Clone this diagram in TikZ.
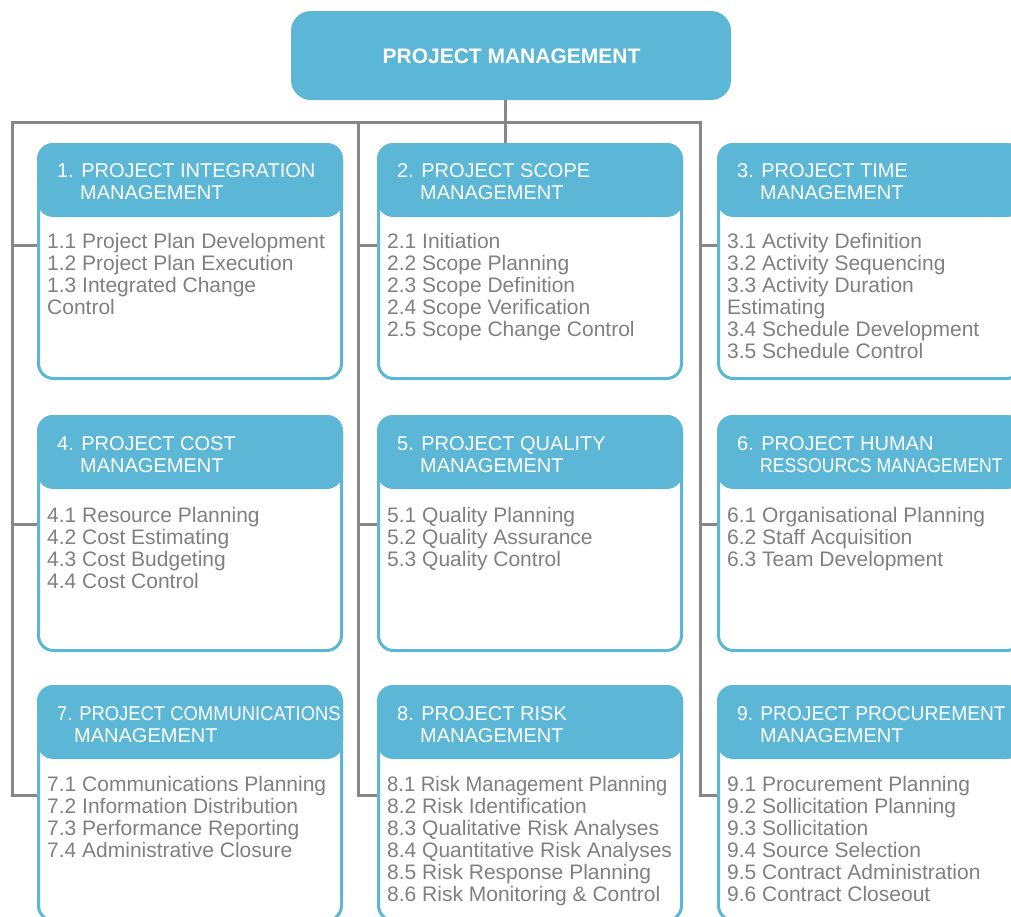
\documentclass[tikz,border=0pt]{standalone}
\usepackage{fontspec}
\usepackage{graphicx}
\usetikzlibrary{backgrounds}
\setmainfont{Liberation Sans}
\definecolor{pmblue}{RGB}{91,183,213}
\definecolor{pmgray}{RGB}{128,128,128}
\definecolor{pmline}{RGB}{135,135,135}
\tikzset{
  conn/.style={draw=pmline, line width=3pt},
  boxframe/.style={draw=pmblue, line width=3pt, fill=white, rounded corners=15pt,
    minimum width=303pt, minimum height=234pt, anchor=north west, inner sep=0pt},
  boxhead/.style={fill=pmblue, rounded corners=16.5pt,
    minimum width=306pt, minimum height=74pt, anchor=north west, inner sep=0pt, outer sep=0pt},
  topbox/.style={fill=pmblue, rounded corners=20pt,
    minimum width=440pt, minimum height=89pt, anchor=north west, inner sep=0pt, outer sep=0pt},
  titletxt/.style={text=white, font=\fontsize{21}{24}\selectfont\bfseries, anchor=base, inner sep=0pt},
  headtxt/.style={text=white, font=\fontsize{20}{22}\selectfont, anchor=base west, inner sep=0pt},
  itemtxt/.style={text=pmgray, font=\fontsize{21}{22}\selectfont, anchor=base west, inner sep=0pt},
}
\begin{document}
\begin{tikzpicture}[x=1pt,y=-1pt]
\useasboundingbox (0,0) rectangle (1011,916);
\clip (0,0) rectangle (1011,916);

% top box
\node[topbox] (pm) at (291,11) {};
\node[titletxt] (pmt) at (511.5,63) {PROJECT MANAGEMENT};

% boxes
\foreach \n/\bx/\by in {1/37/143, 2/377/143, 3/717/143,
                        4/37/415, 5/377/415, 6/717/415,
                        7/37/685, 8/377/685, 9/717/685}{
  \node[boxframe] (b\n) at (\bx,\by) {};
  \node[boxhead] (h\n) at (\bx,\by) {};
}

% connectors
\coordinate (c1) at (12,122);
\coordinate (c2) at (358,122);
\coordinate (c3) at (700,122);
\coordinate (j0) at (505,122);
\coordinate (r1) at (0,245);
\coordinate (r2) at (0,524);
\coordinate (r3) at (0,795);
\begin{scope}[on background layer]
\draw[conn] (pm.south -| j0) -- (h2.north -| j0);
\draw[conn] (b7.west |- r3) -| (c1) -- (c3) |- (b9.west |- r3);
\draw[conn] (c2) |- (b8.west |- r3);
\draw[conn] (c1 |- r1) -- (b1.west |- r1);
\draw[conn] (c1 |- r2) -- (b4.west |- r2);
\draw[conn] (c2 |- r1) -- (b2.west |- r1);
\draw[conn] (c2 |- r2) -- (b5.west |- r2);
\draw[conn] (c3 |- r1) -- (b3.west |- r1);
\draw[conn] (c3 |- r2) -- (b6.west |- r2);
\end{scope}

% header texts
\node[headtxt] (t1a) at (57,177) {1. PROJECT INTEGRATION};
\node[headtxt] (t1b) at (80,199) {MANAGEMENT};
\node[headtxt] (t2a) at (397,177) {2. PROJECT SCOPE};
\node[headtxt] (t2b) at (420,199) {MANAGEMENT};
\node[headtxt] (t3a) at (737,177) {3. PROJECT TIME};
\node[headtxt] (t3b) at (760,199) {MANAGEMENT};
\node[headtxt] (t4a) at (57,450) {4. PROJECT COST};
\node[headtxt] (t4b) at (80,472) {MANAGEMENT};
\node[headtxt] (t5a) at (397,450) {5. PROJECT QUALITY};
\node[headtxt] (t5b) at (420,472) {MANAGEMENT};
\node[headtxt] (t6a) at (737,450) {6. PROJECT HUMAN};
\node[headtxt] (t6b) at (760,472) {\scalebox{0.88}[1]{RESSOURCS MANAGEMENT}};
\node[headtxt] (t7a) at (57,720) {\scalebox{0.92}[1]{7. PROJECT COMMUNICATIONS}};
\node[headtxt] (t7b) at (74,742) {MANAGEMENT};
\node[headtxt] (t8a) at (397,720) {8. PROJECT RISK};
\node[headtxt] (t8b) at (420,742) {MANAGEMENT};
\node[headtxt] (t9a) at (737,720) {\scalebox{0.96}[1]{9. PROJECT PROCUREMENT}};
\node[headtxt] (t9b) at (760,742) {MANAGEMENT};

% items
\foreach \t [count=\k from 0] in {{1.1 Project Plan Development},{1.2 Project Plan Execution},{1.3 Integrated Change},{Control}}
  \node[itemtxt] (i1-\k) at (47,{248+22*\k}) {\t};
\foreach \t [count=\k from 0] in {{2.1 Initiation},{2.2 Scope Planning},{2.3 Scope Definition},{2.4 Scope Verification},{2.5 Scope Change Control}}
  \node[itemtxt] (i2-\k) at (387,{248+22*\k}) {\t};
\foreach \t [count=\k from 0] in {{3.1 Activity Definition},{3.2 Activity Sequencing},{3.3 Activity Duration},{Estimating},{3.4 Schedule Development},{3.5 Schedule Control}}
  \node[itemtxt] (i3-\k) at (727,{248+22*\k}) {\t};
\foreach \t [count=\k from 0] in {{4.1 Resource Planning},{4.2 Cost Estimating},{4.3 Cost Budgeting},{4.4 Cost Control}}
  \node[itemtxt] (i4-\k) at (47,{522+22*\k}) {\t};
\foreach \t [count=\k from 0] in {{5.1 Quality Planning},{5.2 Quality Assurance},{5.3 Quality Control}}
  \node[itemtxt] (i5-\k) at (387,{522+22*\k}) {\t};
\foreach \t [count=\k from 0] in {{6.1 Organisational Planning},{6.2 Staff Acquisition},{6.3 Team Development}}
  \node[itemtxt] (i6-\k) at (727,{522+22*\k}) {\t};
\foreach \t [count=\k from 0] in {{7.1 Communications Planning},{7.2 Information Distribution},{7.3 Performance Reporting},{7.4 Administrative Closure}}
  \node[itemtxt] (i7-\k) at (47,{791+22*\k}) {\t};
\foreach \t [count=\k from 0] in {{\scalebox{0.96}[1]{8.1 Risk Management Planning}},{8.2 Risk Identification},{8.3 Qualitative Risk Analyses},{8.4 Quantitative Risk Analyses},{8.5 Risk Response Planning},{8.6 Risk Monitoring \& Control}}
  \node[itemtxt] (i8-\k) at (387,{791+22*\k}) {\t};
\foreach \t [count=\k from 0] in {{9.1 Procurement Planning},{9.2 Sollicitation Planning},{9.3 Sollicitation},{9.4 Source Selection},{9.5 Contract Administration},{9.6 Contract Closeout}}
  \node[itemtxt] (i9-\k) at (727,{791+22*\k}) {\t};
\end{tikzpicture}
\end{document}
